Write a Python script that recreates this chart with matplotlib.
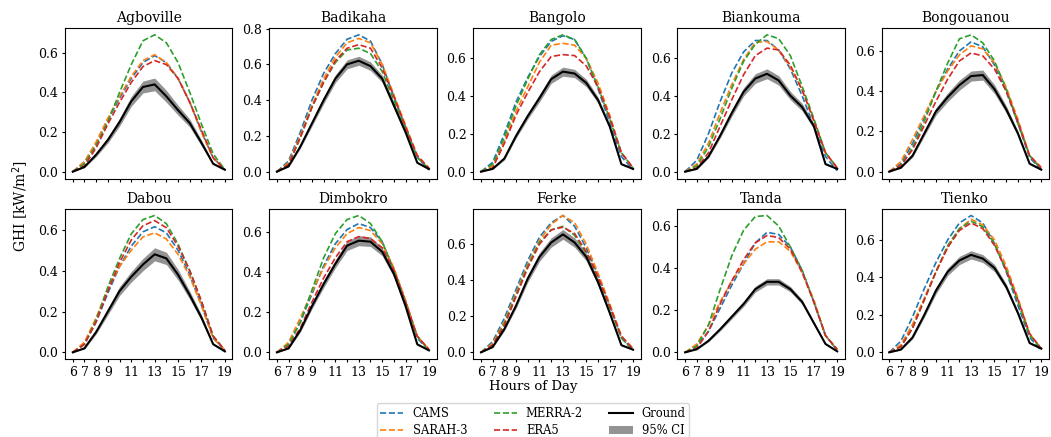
import numpy as np
import matplotlib.pyplot as plt
from matplotlib.patches import Patch
from matplotlib.lines import Line2D

plt.rcParams['font.family'] = 'DejaVu Serif'

hours = np.arange(6, 20)
sites = ['Agboville', 'Badikaha', 'Bangolo', 'Biankouma', 'Bongouanou',
         'Dabou', 'Dimbokro', 'Ferke', 'Tanda', 'Tienko']
xtick_labels = ['6', '7', '8', '9', '', '11', '', '13', '', '15', '', '17', '', '19']

# mean hourly GHI [kW/m2], hours 6..19, one row per site
cams = [
    [0.0, 0.05, 0.14, 0.26, 0.37, 0.47, 0.55, 0.585, 0.55, 0.47, 0.35, 0.20, 0.07, 0.01],
    [0.0, 0.06, 0.22, 0.40, 0.55, 0.66, 0.74, 0.765, 0.73, 0.60, 0.42, 0.25, 0.08, 0.01],
    [0.0, 0.05, 0.20, 0.37, 0.50, 0.61, 0.69, 0.72, 0.70, 0.60, 0.44, 0.26, 0.08, 0.01],
    [0.0, 0.06, 0.20, 0.37, 0.52, 0.63, 0.69, 0.69, 0.64, 0.54, 0.40, 0.24, 0.08, 0.005],
    [0.0, 0.04, 0.14, 0.27, 0.40, 0.51, 0.60, 0.645, 0.62, 0.53, 0.40, 0.24, 0.07, 0.01],
    [0.0, 0.04, 0.15, 0.29, 0.42, 0.52, 0.59, 0.615, 0.585, 0.50, 0.38, 0.23, 0.07, 0.01],
    [0.0, 0.04, 0.15, 0.29, 0.43, 0.54, 0.61, 0.64, 0.62, 0.55, 0.41, 0.25, 0.07, 0.01],
    [0.0, 0.06, 0.19, 0.35, 0.51, 0.64, 0.72, 0.76, 0.70, 0.58, 0.43, 0.26, 0.08, 0.01],
    [0.0, 0.03, 0.10, 0.21, 0.32, 0.42, 0.52, 0.57, 0.56, 0.50, 0.39, 0.24, 0.08, 0.01],
    [0.0, 0.06, 0.19, 0.34, 0.48, 0.60, 0.69, 0.73, 0.69, 0.58, 0.43, 0.25, 0.08, 0.01],
]
sarah = [
    [0.0, 0.05, 0.15, 0.27, 0.38, 0.48, 0.56, 0.59, 0.55, 0.47, 0.35, 0.20, 0.07, 0.01],
    [0.0, 0.05, 0.20, 0.37, 0.52, 0.64, 0.72, 0.745, 0.72, 0.60, 0.43, 0.26, 0.09, 0.02],
    [0.0, 0.03, 0.16, 0.32, 0.45, 0.58, 0.67, 0.68, 0.67, 0.60, 0.47, 0.30, 0.10, 0.02],
    [0.0, 0.04, 0.15, 0.31, 0.46, 0.59, 0.68, 0.685, 0.64, 0.55, 0.43, 0.27, 0.10, 0.02],
    [0.0, 0.05, 0.16, 0.28, 0.40, 0.50, 0.58, 0.625, 0.61, 0.54, 0.42, 0.26, 0.08, 0.02],
    [0.0, 0.05, 0.17, 0.31, 0.42, 0.50, 0.565, 0.585, 0.555, 0.48, 0.37, 0.23, 0.07, 0.01],
    [0.0, 0.05, 0.17, 0.30, 0.42, 0.52, 0.59, 0.62, 0.605, 0.54, 0.42, 0.26, 0.08, 0.015],
    [0.0, 0.05, 0.17, 0.33, 0.49, 0.62, 0.71, 0.76, 0.72, 0.60, 0.44, 0.27, 0.09, 0.02],
    [0.0, 0.04, 0.13, 0.24, 0.34, 0.42, 0.49, 0.525, 0.525, 0.48, 0.38, 0.25, 0.08, 0.015],
    [0.0, 0.04, 0.15, 0.29, 0.43, 0.56, 0.66, 0.71, 0.68, 0.60, 0.46, 0.29, 0.10, 0.02],
]
merra2 = [
    [0.0, 0.04, 0.13, 0.25, 0.40, 0.54, 0.66, 0.69, 0.65, 0.55, 0.40, 0.24, 0.09, 0.01],
    [0.0, 0.04, 0.19, 0.36, 0.50, 0.61, 0.68, 0.69, 0.66, 0.56, 0.40, 0.24, 0.08, 0.015],
    [0.0, 0.04, 0.18, 0.35, 0.49, 0.62, 0.70, 0.725, 0.70, 0.60, 0.45, 0.28, 0.10, 0.02],
    [0.0, 0.03, 0.13, 0.28, 0.44, 0.58, 0.67, 0.72, 0.70, 0.61, 0.45, 0.28, 0.10, 0.02],
    [0.0, 0.03, 0.12, 0.25, 0.40, 0.54, 0.66, 0.68, 0.64, 0.55, 0.41, 0.24, 0.08, 0.01],
    [0.0, 0.04, 0.16, 0.32, 0.46, 0.58, 0.65, 0.67, 0.63, 0.53, 0.40, 0.25, 0.08, 0.01],
    [0.0, 0.04, 0.15, 0.31, 0.47, 0.59, 0.66, 0.68, 0.64, 0.55, 0.41, 0.25, 0.08, 0.01],
    [0.0, 0.04, 0.16, 0.32, 0.48, 0.61, 0.68, 0.70, 0.65, 0.55, 0.41, 0.25, 0.08, 0.015],
    [0.0, 0.03, 0.13, 0.30, 0.46, 0.58, 0.645, 0.65, 0.60, 0.50, 0.39, 0.24, 0.08, 0.01],
    [0.0, 0.03, 0.13, 0.28, 0.43, 0.57, 0.66, 0.70, 0.67, 0.58, 0.44, 0.27, 0.09, 0.02],
]
era5 = [
    [0.0, 0.03, 0.12, 0.24, 0.35, 0.45, 0.53, 0.56, 0.54, 0.47, 0.35, 0.21, 0.07, 0.01],
    [0.0, 0.04, 0.19, 0.36, 0.50, 0.62, 0.69, 0.71, 0.69, 0.58, 0.42, 0.25, 0.09, 0.02],
    [0.0, 0.02, 0.15, 0.30, 0.42, 0.53, 0.61, 0.62, 0.615, 0.56, 0.45, 0.29, 0.10, 0.02],
    [0.0, 0.02, 0.10, 0.24, 0.38, 0.51, 0.61, 0.65, 0.64, 0.56, 0.43, 0.27, 0.10, 0.02],
    [0.0, 0.03, 0.11, 0.23, 0.35, 0.46, 0.55, 0.59, 0.575, 0.51, 0.40, 0.25, 0.08, 0.02],
    [0.0, 0.04, 0.15, 0.30, 0.44, 0.55, 0.62, 0.645, 0.61, 0.52, 0.40, 0.25, 0.08, 0.01],
    [0.0, 0.03, 0.12, 0.25, 0.37, 0.47, 0.55, 0.575, 0.565, 0.52, 0.41, 0.25, 0.08, 0.015],
    [0.0, 0.04, 0.15, 0.31, 0.47, 0.60, 0.68, 0.695, 0.66, 0.56, 0.42, 0.26, 0.09, 0.02],
    [0.0, 0.02, 0.10, 0.23, 0.34, 0.44, 0.52, 0.555, 0.545, 0.49, 0.38, 0.24, 0.08, 0.015],
    [0.0, 0.03, 0.13, 0.28, 0.43, 0.56, 0.65, 0.69, 0.66, 0.57, 0.44, 0.28, 0.10, 0.02],
]
ground = [
    [0.0, 0.024, 0.086, 0.16, 0.25, 0.355, 0.427, 0.44, 0.38, 0.31, 0.245, 0.145, 0.04, 0.01],
    [0.0, 0.03, 0.14, 0.27, 0.40, 0.52, 0.60, 0.62, 0.59, 0.52, 0.37, 0.22, 0.05, 0.015],
    [0.0, 0.015, 0.07, 0.19, 0.295, 0.39, 0.49, 0.53, 0.52, 0.47, 0.38, 0.24, 0.04, 0.015],
    [0.0, 0.015, 0.08, 0.19, 0.31, 0.42, 0.49, 0.515, 0.48, 0.40, 0.34, 0.24, 0.04, 0.015],
    [0.0, 0.02, 0.08, 0.19, 0.30, 0.37, 0.43, 0.475, 0.48, 0.41, 0.31, 0.19, 0.04, 0.01],
    [0.0, 0.02, 0.10, 0.20, 0.30, 0.37, 0.43, 0.48, 0.46, 0.38, 0.28, 0.17, 0.04, 0.005],
    [0.0, 0.02, 0.11, 0.23, 0.34, 0.44, 0.53, 0.555, 0.55, 0.50, 0.39, 0.23, 0.04, 0.01],
    [0.0, 0.03, 0.13, 0.26, 0.41, 0.53, 0.61, 0.655, 0.61, 0.53, 0.39, 0.22, 0.04, 0.015],
    [0.0, 0.015, 0.055, 0.11, 0.17, 0.23, 0.30, 0.335, 0.335, 0.30, 0.24, 0.14, 0.04, 0.005],
    [0.0, 0.015, 0.08, 0.20, 0.33, 0.43, 0.49, 0.52, 0.50, 0.45, 0.35, 0.21, 0.05, 0.02],
]
# half width of the 95% confidence interval on the ground mean
ci = [
    [0.0, 0.004, 0.01, 0.015, 0.02, 0.025, 0.03, 0.032, 0.03, 0.025, 0.02, 0.015, 0.005, 0.003],
    [0.0, 0.004, 0.01, 0.015, 0.02, 0.022, 0.025, 0.025, 0.024, 0.02, 0.018, 0.012, 0.005, 0.003],
    [0.0, 0.003, 0.008, 0.012, 0.016, 0.02, 0.022, 0.024, 0.022, 0.02, 0.016, 0.012, 0.005, 0.003],
    [0.0, 0.003, 0.008, 0.013, 0.018, 0.022, 0.025, 0.026, 0.025, 0.022, 0.02, 0.014, 0.005, 0.003],
    [0.0, 0.003, 0.008, 0.013, 0.018, 0.022, 0.025, 0.025, 0.025, 0.022, 0.018, 0.012, 0.005, 0.003],
    [0.0, 0.004, 0.01, 0.016, 0.022, 0.026, 0.03, 0.032, 0.03, 0.026, 0.02, 0.014, 0.005, 0.003],
    [0.0, 0.003, 0.01, 0.014, 0.018, 0.02, 0.024, 0.025, 0.024, 0.02, 0.016, 0.012, 0.005, 0.003],
    [0.0, 0.004, 0.01, 0.015, 0.02, 0.024, 0.026, 0.027, 0.026, 0.022, 0.018, 0.012, 0.005, 0.003],
    [0.0, 0.002, 0.005, 0.008, 0.01, 0.012, 0.014, 0.015, 0.015, 0.013, 0.011, 0.008, 0.004, 0.002],
    [0.0, 0.003, 0.008, 0.013, 0.018, 0.02, 0.022, 0.022, 0.021, 0.019, 0.016, 0.012, 0.005, 0.003],
]

products = [('CAMS', cams, 'tab:blue'), ('SARAH-3', sarah, 'tab:orange'),
            ('MERRA-2', merra2, 'tab:green'), ('ERA5', era5, 'tab:red')]

fig, axes = plt.subplots(2, 5, figsize=(10.51, 4.37), dpi=100, sharex=True)
fig.subplots_adjust(left=0.062, right=0.998, top=0.936, bottom=0.178,
                    wspace=0.22, hspace=0.2)

for i, ax in enumerate(axes.flat):
    g = np.array(ground[i])
    h = np.array(ci[i])
    for name, vals, col in products:
        ax.plot(hours, vals[i], '--', color=col, lw=1.2)
    ax.fill_between(hours, g - h, g + h, color='grey', alpha=0.85, lw=0)
    ax.plot(hours, g, color='black', lw=1.5)
    ax.set_title(sites[i], fontsize=10, pad=4)
    ax.tick_params(labelsize=9, length=2.5, pad=2.5)
    ax.set_xticks(hours)
    ax.set_xticklabels(xtick_labels)

fig.text(533 / 1051, 0.108, 'Hours of Day', ha='center', fontsize=9.5)
fig.text(0.02, 0.529, 'GHI [kW/m$^2$]', rotation=90, va='center', ha='center', fontsize=10)

handles = [Line2D([], [], ls='--', color=c, lw=1.2) for _, _, c in products]
handles += [Line2D([], [], color='black', lw=1.5), Patch(color='grey', alpha=0.85, lw=0)]
labels = [p[0] for p in products] + ['Ground', '95% CI']
fig.legend(handles, labels, ncol=3, loc='upper center', fontsize=8.3,
           bbox_to_anchor=(533 / 1051, 0.09), columnspacing=2.3,
           borderpad=0.3, labelspacing=0.35)

fig.savefig('out.png', dpi=100)
